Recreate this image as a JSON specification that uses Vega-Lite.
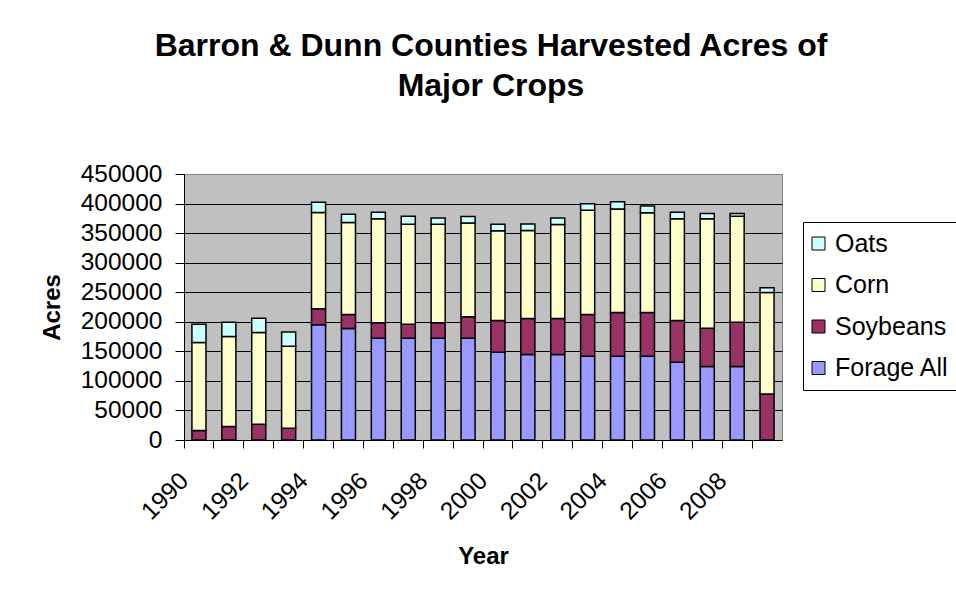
{
  "$schema": "https://vega.github.io/schema/vega-lite/v6.json",
  "width": 598,
  "height": 266,
  "autosize": {"type": "none"},
  "padding": {"left": 184, "top": 174, "right": 174, "bottom": 157},
  "background": "white",
  "title": {
    "text": ["Barron & Dunn Counties Harvested Acres of", "Major Crops"],
    "font": "Liberation Sans",
    "fontSize": 32,
    "fontWeight": "bold",
    "color": "black",
    "anchor": "middle",
    "frame": "group",
    "dx": 8,
    "offset": 58,
    "lineHeight": 40
  },
  "data": {
    "values": [
      {"year": 1990, "crop": "Soybeans", "acres": 16000},
      {"year": 1990, "crop": "Corn", "acres": 149000},
      {"year": 1990, "crop": "Oats", "acres": 31000},
      {"year": 1991, "crop": "Soybeans", "acres": 23000},
      {"year": 1991, "crop": "Corn", "acres": 152000},
      {"year": 1991, "crop": "Oats", "acres": 24000},
      {"year": 1992, "crop": "Soybeans", "acres": 26500},
      {"year": 1992, "crop": "Corn", "acres": 155500},
      {"year": 1992, "crop": "Oats", "acres": 24000},
      {"year": 1993, "crop": "Soybeans", "acres": 20000},
      {"year": 1993, "crop": "Corn", "acres": 138500},
      {"year": 1993, "crop": "Oats", "acres": 24000},
      {"year": 1994, "crop": "Forage All", "acres": 195000},
      {"year": 1994, "crop": "Soybeans", "acres": 27000},
      {"year": 1994, "crop": "Corn", "acres": 163000},
      {"year": 1994, "crop": "Oats", "acres": 17000},
      {"year": 1995, "crop": "Forage All", "acres": 188500},
      {"year": 1995, "crop": "Soybeans", "acres": 24000},
      {"year": 1995, "crop": "Corn", "acres": 155500},
      {"year": 1995, "crop": "Oats", "acres": 14000},
      {"year": 1996, "crop": "Forage All", "acres": 172000},
      {"year": 1996, "crop": "Soybeans", "acres": 26500},
      {"year": 1996, "crop": "Corn", "acres": 176000},
      {"year": 1996, "crop": "Oats", "acres": 11000},
      {"year": 1997, "crop": "Forage All", "acres": 172000},
      {"year": 1997, "crop": "Soybeans", "acres": 24000},
      {"year": 1997, "crop": "Corn", "acres": 169000},
      {"year": 1997, "crop": "Oats", "acres": 13500},
      {"year": 1998, "crop": "Forage All", "acres": 172000},
      {"year": 1998, "crop": "Soybeans", "acres": 26500},
      {"year": 1998, "crop": "Corn", "acres": 166500},
      {"year": 1998, "crop": "Oats", "acres": 10500},
      {"year": 1999, "crop": "Forage All", "acres": 172000},
      {"year": 1999, "crop": "Soybeans", "acres": 36500},
      {"year": 1999, "crop": "Corn", "acres": 158500},
      {"year": 1999, "crop": "Oats", "acres": 11000},
      {"year": 2000, "crop": "Forage All", "acres": 148500},
      {"year": 2000, "crop": "Soybeans", "acres": 53500},
      {"year": 2000, "crop": "Corn", "acres": 152000},
      {"year": 2000, "crop": "Oats", "acres": 11000},
      {"year": 2001, "crop": "Forage All", "acres": 144500},
      {"year": 2001, "crop": "Soybeans", "acres": 61000},
      {"year": 2001, "crop": "Corn", "acres": 149000},
      {"year": 2001, "crop": "Oats", "acres": 11000},
      {"year": 2002, "crop": "Forage All", "acres": 144500},
      {"year": 2002, "crop": "Soybeans", "acres": 61000},
      {"year": 2002, "crop": "Corn", "acres": 159000},
      {"year": 2002, "crop": "Oats", "acres": 11000},
      {"year": 2003, "crop": "Forage All", "acres": 141500},
      {"year": 2003, "crop": "Soybeans", "acres": 71000},
      {"year": 2003, "crop": "Corn", "acres": 176000},
      {"year": 2003, "crop": "Oats", "acres": 11000},
      {"year": 2004, "crop": "Forage All", "acres": 141500},
      {"year": 2004, "crop": "Soybeans", "acres": 74000},
      {"year": 2004, "crop": "Corn", "acres": 175500},
      {"year": 2004, "crop": "Oats", "acres": 12000},
      {"year": 2005, "crop": "Forage All", "acres": 141500},
      {"year": 2005, "crop": "Soybeans", "acres": 74000},
      {"year": 2005, "crop": "Corn", "acres": 169000},
      {"year": 2005, "crop": "Oats", "acres": 11500},
      {"year": 2006, "crop": "Forage All", "acres": 131500},
      {"year": 2006, "crop": "Soybeans", "acres": 70500},
      {"year": 2006, "crop": "Corn", "acres": 172500},
      {"year": 2006, "crop": "Oats", "acres": 11000},
      {"year": 2007, "crop": "Forage All", "acres": 124500},
      {"year": 2007, "crop": "Soybeans", "acres": 64500},
      {"year": 2007, "crop": "Corn", "acres": 185500},
      {"year": 2007, "crop": "Oats", "acres": 8500},
      {"year": 2008, "crop": "Forage All", "acres": 124500},
      {"year": 2008, "crop": "Soybeans", "acres": 74500},
      {"year": 2008, "crop": "Corn", "acres": 179500},
      {"year": 2008, "crop": "Oats", "acres": 4500},
      {"year": 2009, "crop": "Soybeans", "acres": 78000},
      {"year": 2009, "crop": "Corn", "acres": 171500},
      {"year": 2009, "crop": "Oats", "acres": 8000}
    ]
  },
  "transform": [
    {"calculate": "indexof(['Forage All', 'Soybeans', 'Corn', 'Oats'], datum.crop)", "as": "stackRank"}
  ],
  "mark": {
    "type": "bar",
    "stroke": "black",
    "strokeWidth": 1.5,
    "width": {"band": 0.47}
  },
  "encoding": {
    "x": {
      "field": "year",
      "type": "ordinal",
      "scale": {"paddingInner": 0, "paddingOuter": 0},
      "axis": {
        "title": "Year",
        "bandPosition": 0,
        "labelAngle": -45,
        "labelAlign": "right",
        "labelBaseline": "middle",
        "labelExpr": "datum.value % 2 === 0 ? datum.label : ''",
        "labelOverlap": false,
        "labelOffset": -14,
        "labelPadding": 29,
        "tickSize": 8,
        "titlePadding": 21
      }
    },
    "y": {
      "field": "acres",
      "type": "quantitative",
      "stack": "zero",
      "scale": {"domain": [0, 450000], "nice": false},
      "axis": {
        "title": "Acres",
        "values": [0, 50000, 100000, 150000, 200000, 250000, 300000, 350000, 400000, 450000],
        "format": "d",
        "tickSize": 9,
        "labelPadding": 13,
        "titlePadding": 16,
        "grid": true,
        "gridColor": {"condition": {"test": "datum.value === 450000", "value": "#808080"}, "value": "black"}
      }
    },
    "order": {"field": "stackRank", "type": "quantitative", "sort": "ascending"},
    "color": {
      "field": "crop",
      "type": "nominal",
      "scale": {
        "domain": ["Oats", "Corn", "Soybeans", "Forage All"],
        "range": ["#CCFFFF", "#FFFFCC", "#993366", "#9999FF"]
      },
      "legend": {
        "title": null,
        "orient": "none",
        "legendX": 619,
        "legendY": 48,
        "padding": 9,
        "strokeColor": "black",
        "fillColor": "white",
        "symbolType": "square",
        "symbolSize": 169,
        "symbolStrokeColor": "black",
        "symbolStrokeWidth": 1,
        "symbolOpacity": 1,
        "symbolOffset": -6,
        "labelFontSize": 25,
        "labelFont": "Liberation Sans",
        "labelColor": "black",
        "labelOffset": 4,
        "rowPadding": 15.5,
        "labelLimit": 300
      }
    }
  },
  "config": {
    "font": "Liberation Sans",
    "view": {"fill": "#C0C0C0", "stroke": "#808080", "strokeWidth": 1},
    "axis": {
      "domainColor": "black",
      "tickColor": "black",
      "labelColor": "black",
      "titleColor": "black",
      "labelFont": "Liberation Sans",
      "titleFont": "Liberation Sans",
      "labelFontSize": 24.5,
      "titleFontSize": 24,
      "titleFontWeight": "bold",
      "gridWidth": 1,
      "domainWidth": 1,
      "tickWidth": 1
    }
  }
}
